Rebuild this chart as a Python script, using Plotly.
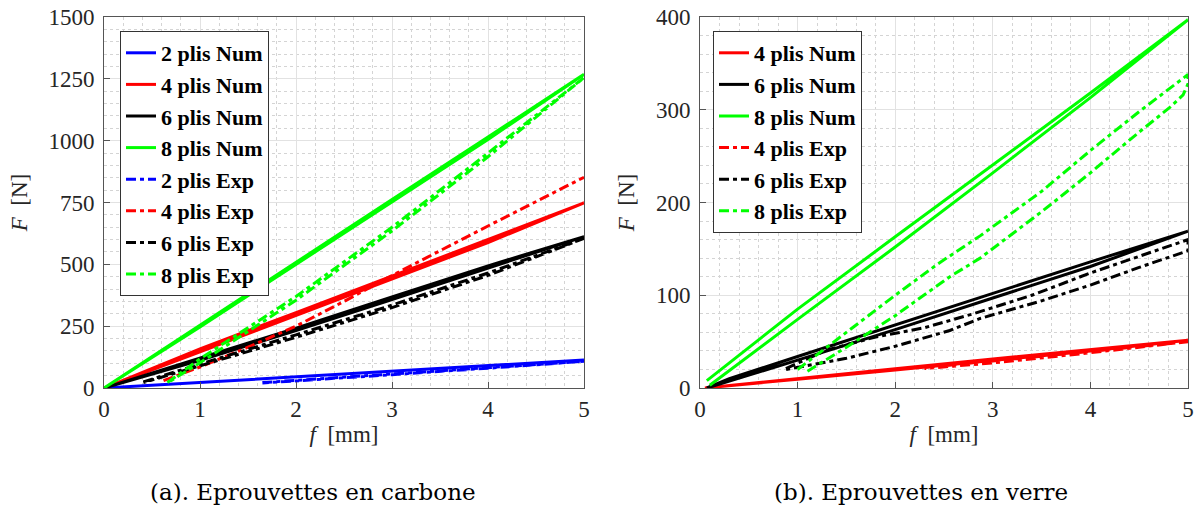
import plotly.graph_objects as go

# ---------------- Data: (a) carbone ----------------
c2_num_x = [0, 1, 2, 3, 4, 5, 4, 3, 2, 1, 0]
c2_num_y = [0, 23, 46, 68, 91, 113, 89, 66, 43, 21, 0]
c4_num_x = [0, 1, 2, 3, 4, 5, 4, 3, 2, 1, 0]
c4_num_y = [0, 158, 305, 452, 600, 748, 588, 440, 293, 146, 0]
c6_num_x = [0, 1, 2, 3, 4, 5, 4, 3, 2, 1, 0]
c6_num_y = [0, 120, 242, 368, 494, 612, 484, 358, 232, 112, 0]
c8_num_x = [0, 1, 2, 3, 4, 5, 4, 3, 2, 1, 0]
c8_num_y = [0, 255, 508, 762, 1015, 1268, 1005, 752, 498, 247, 0]

c2_exp_x = [1.65, 2, 3, 4, 5, 4, 3, 2, 1.65]
c2_exp_y = [22, 31, 57, 83, 108, 80, 54, 28, 20]
c4_exp_x = [0.62, 1, 1.5, 2, 2.5, 3, 4, 5]
c4_exp_y = [30, 85, 165, 250, 350, 455, 655, 852]
c6_exp_x = [0.41, 1, 2, 3, 4, 5, 4, 3, 2, 1, 0.41]
c6_exp_y = [25, 97, 215, 335, 465, 605, 455, 325, 205, 88, 22]
c8_exp_x = [0.66, 1, 2, 3, 4, 5, 4, 3, 2, 1, 0.66]
c8_exp_y = [22, 118, 370, 650, 950, 1255, 935, 635, 355, 102, 20]

# ---------------- Data: (b) verre ----------------
g4_num_x = [0.05, 1, 2, 3, 4, 5, 4, 3, 2, 1, 0.05]
g4_num_y = [0, 10.5, 20.8, 31.2, 41.5, 51.5, 40, 29.5, 19.5, 9.5, 0]
g6_num_x = [0.07, 0.3, 1, 2, 3, 4, 5, 4, 3, 2, 1, 0.3, 0.07]
g6_num_y = [0, 10, 34, 68, 102, 136, 169, 131, 97, 63, 30, 8, 0]
g8_num_x = [0.07, 1, 2, 3, 4, 5, 4, 3, 2, 1, 0.1]
g8_num_y = [8, 85, 163, 240, 318, 397, 313, 232, 152, 74, 3]

g4_exp_x = [2.3, 3, 4, 5, 4, 3, 2.3]
g4_exp_y = [22, 29, 39.5, 50, 38, 27, 21]
g6_exp_x = [0.88, 1.3, 1.8, 2.3, 2.8, 3.4, 4, 4.5, 5,
            5, 4.5, 4, 3.5, 2.87, 2.56, 2, 1.5, 0.88]
g6_exp_y = [21, 41, 55, 65, 80, 100, 124, 142, 160,
            148, 130, 111, 94, 75, 62, 45, 32, 20]
g8_exp_x = [1.0, 1.5, 2, 2.44, 2.87, 3.5, 4, 4.5, 5,
            5.0, 4.95, 4.82, 4.5, 4, 3.5, 2.87, 2.56, 2, 1.5, 1.1]
g8_exp_y = [20, 60, 100, 134, 164, 212, 256, 298, 338,
            328, 316, 303, 276, 232, 190, 140, 120, 78, 44, 18]

BLUE, RED, BLACK, GREEN = "#0000ff", "#ff0000", "#000000", "#00ff00"
DASH = "10px,4px,4px,4px"

fig = go.Figure()

left_series = [
    ("2 plis Num", c2_num_x, c2_num_y, BLUE, "solid"),
    ("4 plis Num", c4_num_x, c4_num_y, RED, "solid"),
    ("6 plis Num", c6_num_x, c6_num_y, BLACK, "solid"),
    ("8 plis Num", c8_num_x, c8_num_y, GREEN, "solid"),
    ("2 plis Exp", c2_exp_x, c2_exp_y, BLUE, DASH),
    ("4 plis Exp", c4_exp_x, c4_exp_y, RED, DASH),
    ("6 plis Exp", c6_exp_x, c6_exp_y, BLACK, DASH),
    ("8 plis Exp", c8_exp_x, c8_exp_y, GREEN, DASH),
]
right_series = [
    ("4 plis Num", g4_num_x, g4_num_y, RED, "solid"),
    ("6 plis Num", g6_num_x, g6_num_y, BLACK, "solid"),
    ("8 plis Num", g8_num_x, g8_num_y, GREEN, "solid"),
    ("4 plis Exp", g4_exp_x, g4_exp_y, RED, DASH),
    ("6 plis Exp", g6_exp_x, g6_exp_y, BLACK, DASH),
    ("8 plis Exp", g8_exp_x, g8_exp_y, GREEN, DASH),
]

for name, xs, ys, col, dash in left_series:
    fig.add_trace(go.Scatter(x=xs, y=ys, mode="lines", name=name,
                             line=dict(color=col, width=3, dash=dash),
                             xaxis="x", yaxis="y", legend="legend"))
for name, xs, ys, col, dash in right_series:
    fig.add_trace(go.Scatter(x=xs, y=ys, mode="lines", name=name,
                             line=dict(color=col, width=3, dash=dash),
                             xaxis="x2", yaxis="y2", legend="legend2"))

# body margin is removed by post_script, figure drawn from (0, 0)
W, H = 1198, 513

def px_x(p):
    return p / W

def px_y(p):
    return 1 - p / H

tickfont = dict(family="Liberation Serif", size=23, color="#262626")
titlefont = dict(family="Liberation Serif", size=23, color="#262626")
axcommon = dict(showline=True, linecolor="#555555", linewidth=1, mirror=True,
                ticks="inside", ticklen=6, tickcolor="#555555",
                showgrid=True, gridcolor="#e2e2e2", gridwidth=1,
                zeroline=False, tickfont=tickfont, automargin=False,
                ticklabeloverflow="allow")

xd1 = [px_x(104), px_x(584)]
xd2 = [px_x(700), px_x(1188)]
yd = [px_y(388), px_y(17)]

def xax(domain, anchor):
    return dict(axcommon, domain=domain, anchor=anchor, range=[0, 5], dtick=1,
                tick0=0, ticklabelstandoff=0,
                minor=dict(dtick=0.2, showgrid=True, gridcolor="#d4d4d4",
                           griddash="dot", ticks=""),
                title=dict(text="<i>f</i>\u00a0\u00a0[mm]", font=titlefont, standoff=5))

def yax(domain, anchor, rng, dt, mdt):
    return dict(axcommon, domain=domain, anchor=anchor, range=rng, dtick=dt,
                tick0=0, ticklabelstandoff=4,
                minor=dict(dtick=mdt, showgrid=True, gridcolor="#d4d4d4",
                           griddash="dot", ticks=""),
                title=dict(text="<i>F</i>\u00a0\u00a0[N]", font=titlefont, standoff=14))

legfont = dict(family="Liberation Serif", size=22, color="#000000", weight="bold")
legcommon = dict(font=legfont, bgcolor="white", bordercolor="#333333", borderwidth=1,
                 xanchor="left", yanchor="top", itemwidth=30, tracegroupgap=0)

fig.update_layout(
    width=W, height=H,
    margin=dict(l=0, r=0, t=0, b=0),
    paper_bgcolor="white", plot_bgcolor="white",
    xaxis=xax(xd1, "y"),
    yaxis=yax(yd, "x", [0, 1500], 250, 50),
    xaxis2=xax(xd2, "y2"),
    yaxis2=yax(yd, "x2", [0, 400], 100, 20),
    legend=dict(legcommon, x=px_x(120), y=px_y(31)),
    legend2=dict(legcommon, x=px_x(713), y=px_y(31)),
    annotations=[
        dict(text="(a). Eprouvettes en carbone", x=px_x(313), y=px_y(492),
             xref="paper", yref="paper", showarrow=False, xanchor="center",
             yanchor="middle", font=dict(family="DejaVu Serif", size=23, color="#000")),
        dict(text="(b). Eprouvettes en verre", x=px_x(921), y=px_y(492),
             xref="paper", yref="paper", showarrow=False, xanchor="center",
             yanchor="middle", font=dict(family="DejaVu Serif", size=23, color="#000")),
    ],
    showlegend=True,
)

fig.write_html(
    "out.html",
    config={"displayModeBar": False},
    post_script="document.body.style.margin='0';document.body.style.overflow='hidden';",
)
